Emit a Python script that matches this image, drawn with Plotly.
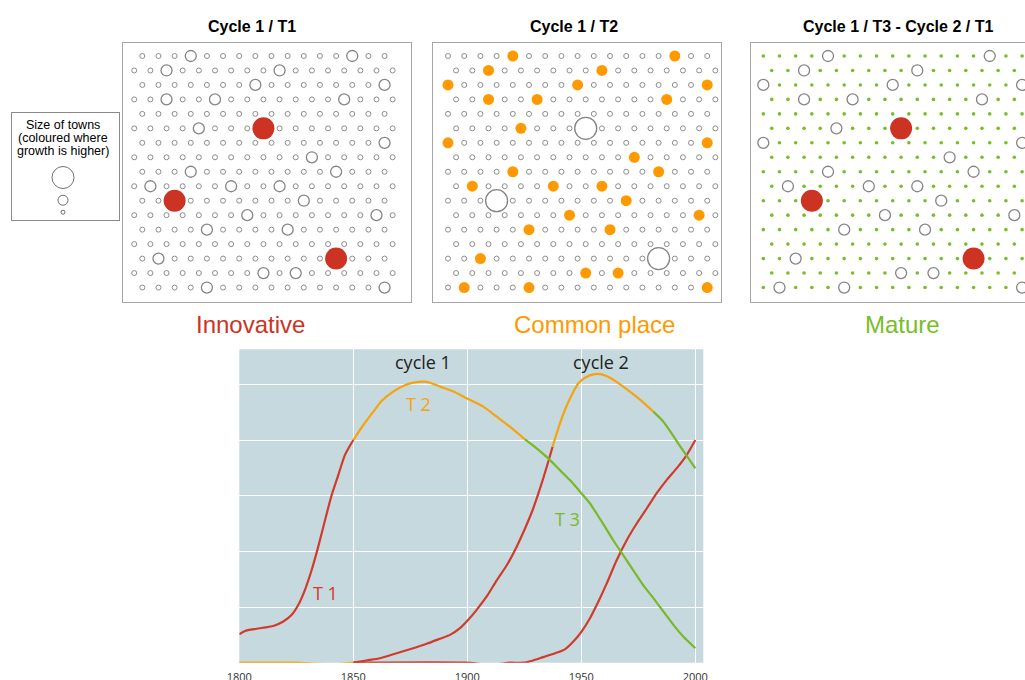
import plotly.graph_objects as go

W, H = 1025, 680
N_ROWS = 17

# ---------------- data: towns (row, col) on a hexagonal lattice ----------------
p1_big = [(0, 3), (0, 13), (1, 2), (1, 9), (2, 7), (2, 15), (3, 2), (3, 5), (3, 13),
          (5, 4), (6, 15), (7, 11), (8, 3), (8, 12), (9, 1), (9, 6), (9, 9), (10, 10),
          (11, 7), (11, 15), (12, 4), (12, 9), (14, 1), (15, 8), (15, 10), (16, 4), (16, 15)]
p1_red = [(5, 8), (10, 2), (14, 12)]

p2_orange = [(0, 4), (0, 14), (1, 2), (1, 9), (2, 0), (2, 8), (2, 16), (3, 2), (3, 5), (3, 13),
             (5, 4), (6, 0), (6, 16), (7, 11), (8, 4), (8, 13), (9, 1), (9, 6), (9, 9), (10, 11),
             (11, 7), (11, 15), (12, 5), (12, 10), (14, 2), (15, 8), (15, 10), (16, 1), (16, 5), (16, 16)]
p2_big = [(5, 8), (10, 3), (14, 13)]

p3_big = [(0, 4), (0, 14), (1, 2), (1, 9), (2, 0), (2, 8), (2, 16), (3, 2), (3, 5), (3, 13),
          (5, 4), (6, 0), (6, 16), (7, 11), (8, 4), (8, 13), (9, 1), (9, 6), (9, 9), (10, 11),
          (11, 7), (11, 15), (12, 5), (12, 10), (14, 2), (15, 8), (15, 10), (16, 1), (16, 5), (16, 16)]
p3_red = [(5, 8), (10, 3), (14, 13)]

panel_titles = ["Cycle 1 / T1", "Cycle 1 / T2", "Cycle 1 / T3 - Cycle 2 / T1"]
stage_labels = ["Innovative", "Common place", "Mature"]
legend_lines = ["Size of towns", "(coloured where", "growth is higher)"]
legend_sizes = [22, 10, 4]

# ---------------- data: curves of the lower chart ----------------
a_red_x = [1800, 1802.5, 1807.6, 1814.9, 1819.3, 1823.0, 1825.9, 1828.8, 1831.7, 1834.6, 1837.6, 1840.5, 1843.4, 1846.3, 1850]
a_red_y = [0.51, 0.57, 0.61, 0.66, 0.74, 0.86, 1.04, 1.31, 1.66, 2.08, 2.56, 3.01, 3.37, 3.73, 4.0]
a_orange_x = [1850, 1854.4, 1858.8, 1862.4, 1867.5, 1871.9, 1876.3, 1881.4, 1883.6, 1888.0, 1893.9, 1899.7, 1907.0, 1912.9, 1918.7, 1925.3]
a_orange_y = [4.0, 4.27, 4.51, 4.70, 4.87, 4.97, 5.03, 5.05, 5.03, 4.96, 4.87, 4.75, 4.60, 4.42, 4.24, 4.01]
a_green_x = [1925.3, 1930.4, 1935.5, 1940.6, 1945.0, 1950.1, 1953.8, 1956.7, 1960.4, 1964.0, 1968.4, 1972.8, 1977.2, 1981.6, 1986.0, 1990.4, 1994.7, 2000]
a_green_y = [4.01, 3.85, 3.67, 3.46, 3.28, 3.04, 2.86, 2.68, 2.44, 2.20, 1.93, 1.66, 1.39, 1.16, 0.92, 0.68, 0.47, 0.26]

b_orange0_x = [1800, 1825, 1835, 1845, 1850]
b_orange0_y = [0, 0, -0.02, -0.02, 0]
b_red_x = [1850, 1855.8, 1861.7, 1869.0, 1876.3, 1882.2, 1888.0, 1892.4, 1896.8, 1900.4, 1904.1, 1908.5, 1912.9, 1917.3, 1921.6, 1925.3, 1928.9, 1932.6, 1935.5, 1937.4]
b_red_y = [0, 0.04, 0.08, 0.17, 0.26, 0.34, 0.43, 0.50, 0.62, 0.77, 0.95, 1.19, 1.48, 1.75, 2.08, 2.41, 2.77, 3.22, 3.61, 3.88]
b_orange_x = [1937.4, 1939.9, 1942.8, 1945.8, 1948.7, 1951.6, 1955.3, 1958.9, 1962.6, 1967.0, 1971.3, 1976.5, 1981.6]
b_orange_y = [3.88, 4.21, 4.54, 4.81, 5.02, 5.12, 5.18, 5.18, 5.12, 5.00, 4.87, 4.70, 4.51]
b_green_x = [1981.6, 1986.0, 1989.6, 1993.3, 1997.0, 2000]
b_green_y = [4.51, 4.33, 4.12, 3.89, 3.67, 3.49]

c_red_x = [1850, 1899.7, 1907.0, 1912.9, 1918.7, 1924.6, 1928.9, 1933.3, 1938.5, 1942.8, 1946.5, 1950.1, 1953.8, 1957.5, 1961.1, 1965.5, 1969.9, 1974.3, 1978.7, 1983.0, 1987.4, 1991.8, 1996.2, 2000]
c_red_y = [0, 0, -0.03, -0.03, 0, 0, 0.04, 0.10, 0.17, 0.24, 0.38, 0.56, 0.80, 1.10, 1.42, 1.84, 2.20, 2.50, 2.77, 3.04, 3.28, 3.49, 3.73, 4.0]

x_ticks = [1800, 1850, 1900, 1950, 2000]
curve_labels = ["cycle 1", "cycle 2", "T 1", "T 2", "T 3"]

# ---------------- styling ----------------
RED = "#cc3322"
ORANGE = "#ff9900"
GREEN = "#79bd28"
LRED = "#d03b2b"
LORANGE = "#f7a30f"
LGREEN = "#7ab82a"
GRAY = "#8c8c8c"
BORDER = "#a6a6a6"
BG = "#c5d9de"


def px(x):
    return x / W


def py(y):
    return 1 - y / H


def lattice(n_even, n_odd, odd_shift):
    pts = {}
    for r in range(N_ROWS):
        n, s = (n_even, 0.0) if r % 2 == 0 else (n_odd, odd_shift)
        for c in range(n):
            pts[(r, c)] = (c + s, r)
    return pts


fig = go.Figure()

panels = [
    dict(ax="", dom=(122.7, 411.0), xr=[-1.214, 16.637], lat=(16, 17, -0.5),
         big=p1_big, big_size=11, fill=p1_red, fill_size=22, fill_color=RED, small="ring", right=True),
    dict(ax="2", dom=(433.0, 721.0), xr=[-0.926, 16.85], lat=(17, 17, 0.5),
         big=p2_big, big_size=22, fill=p2_orange, fill_size=11, fill_color=ORANGE, small="ring", right=True),
    dict(ax="3", dom=(750.7, 1025.0), xr=[-0.78, 16.18], lat=(17, 17, 0.52),
         big=p3_big, big_size=11, fill=p3_red, fill_size=22, fill_color=RED, small="dot", right=False),
]
yr_panel = [17.0, -0.898]

for p in panels:
    pts = lattice(*p["lat"])
    special = set(p["big"]) | set(p["fill"])
    small = [pts[k] for k in pts if k not in special]
    xa, ya = "x" + p["ax"], "y" + p["ax"]
    if p["small"] == "ring":
        fig.add_trace(go.Scatter(x=[q[0] for q in small], y=[q[1] for q in small], mode="markers",
                                 xaxis=xa, yaxis=ya, hoverinfo="skip", showlegend=False,
                                 marker=dict(symbol="circle-open", size=5, color=GRAY, line=dict(width=1))))
    else:
        fig.add_trace(go.Scatter(x=[q[0] for q in small], y=[q[1] for q in small], mode="markers",
                                 xaxis=xa, yaxis=ya, hoverinfo="skip", showlegend=False,
                                 marker=dict(symbol="circle", size=3.6, color=GREEN, line=dict(width=0))))
    bigp = [pts[k] for k in p["big"]]
    fig.add_trace(go.Scatter(x=[q[0] for q in bigp], y=[q[1] for q in bigp], mode="markers",
                             xaxis=xa, yaxis=ya, hoverinfo="skip", showlegend=False,
                             marker=dict(symbol="circle-open", size=p["big_size"], color="#858585",
                                         line=dict(width=1.3))))
    fp = [pts[k] for k in p["fill"]]
    fig.add_trace(go.Scatter(x=[q[0] for q in fp], y=[q[1] for q in fp], mode="markers",
                             xaxis=xa, yaxis=ya, hoverinfo="skip", showlegend=False,
                             marker=dict(symbol="circle", size=p["fill_size"], color=p["fill_color"],
                                         line=dict(width=0))))
    key = "xaxis" + p["ax"]
    ykey = "yaxis" + p["ax"]
    fig.layout[key] = dict(domain=[px(p["dom"][0]), px(p["dom"][1])], range=p["xr"], showgrid=False,
                           zeroline=False, showticklabels=False, ticks="", showline=True, mirror=True,
                           linecolor=BORDER, linewidth=1, fixedrange=True, automargin=False,
                           anchor="y" + p["ax"])
    fig.layout[ykey] = dict(domain=[py(302), py(43)], range=yr_panel, showgrid=False, zeroline=False,
                            showticklabels=False, ticks="", showline=True, mirror=p["right"],
                            linecolor=BORDER, linewidth=1, fixedrange=True, automargin=False,
                            anchor="x" + p["ax"])

# ---------------- legend box ----------------
leg_y = [65, 87.7, 99.7]
fig.add_trace(go.Scatter(x=[51.3] * 3, y=leg_y, mode="markers", xaxis="x4", yaxis="y4",
                         hoverinfo="skip", showlegend=False,
                         marker=dict(symbol="circle-open", size=legend_sizes, color="#333333",
                                     line=dict(width=1))))
fig.layout["xaxis4"] = dict(domain=[px(11.7), px(118.5)], range=[0, 106.8], showgrid=False,
                            zeroline=False, showticklabels=False, ticks="", showline=True, mirror=True,
                            linecolor="#8a8a8a", linewidth=1, fixedrange=True, automargin=False,
                            anchor="y4")
fig.layout["yaxis4"] = dict(domain=[py(220), py(112.5)], range=[107.5, 0], showgrid=False,
                            zeroline=False, showticklabels=False, ticks="", showline=True, mirror=True,
                            linecolor="#8a8a8a", linewidth=1, fixedrange=True, automargin=False,
                            anchor="x4")

# ---------------- lower chart ----------------
line_sets = [
    (b_orange0_x, b_orange0_y, LORANGE),
    (c_red_x, c_red_y, LRED),
    (b_red_x, b_red_y, LRED),
    (b_orange_x, b_orange_y, LORANGE),
    (b_green_x, b_green_y, LGREEN),
    (a_red_x, a_red_y, LRED),
    (a_orange_x, a_orange_y, LORANGE),
    (a_green_x, a_green_y, LGREEN),
]
for xs, ys, col in line_sets:
    fig.add_trace(go.Scatter(x=xs, y=ys, mode="lines", xaxis="x5", yaxis="y5", hoverinfo="skip",
                             showlegend=False, cliponaxis=False,
                             line=dict(color=col, width=2.2, shape="spline", smoothing=0.6)))

fig.layout["xaxis5"] = dict(domain=[px(239.3), px(703.3)], range=[1800, 2003.5], tickvals=x_ticks,
                            showgrid=True, gridcolor="white", gridwidth=1, zeroline=False,
                            showline=False, ticks="outside", ticklen=4, tickcolor="rgba(0,0,0,0)",
                            tickfont=dict(family="Open Sans", size=11, color="#333333"),
                            fixedrange=True, automargin=False, anchor="y5")
fig.layout["yaxis5"] = dict(domain=[py(662.7), py(349.3)], range=[0, 5.63], dtick=1,
                            showgrid=True, gridcolor="white", gridwidth=1, zeroline=False,
                            showticklabels=False, ticks="", showline=False, fixedrange=True,
                            automargin=False, anchor="x5")

shapes = [dict(type="rect", xref="x5 domain", yref="y5 domain", x0=0, x1=1, y0=0, y1=1,
               fillcolor=BG, line=dict(width=0), layer="below")]

annotations = []
title_x = [252.3, 573.8, 898.0]
for t, xc in zip(panel_titles, title_x):
    annotations.append(dict(text="<b>" + t + "</b>", x=px(xc), y=py(27), xref="paper", yref="paper",
                            showarrow=False, xanchor="center", yanchor="middle",
                            font=dict(family="Liberation Sans", size=16, color="black")))
label_x = [250.5, 594.5, 902.5]
label_col = [RED, ORANGE, GREEN]
for t, xc, col in zip(stage_labels, label_x, label_col):
    annotations.append(dict(text=t, x=px(xc), y=py(324), xref="paper", yref="paper",
                            showarrow=False, xanchor="center", yanchor="middle",
                            font=dict(family="Liberation Sans", size=24, color=col)))
for t, yc in zip(legend_lines, [125.3, 138.3, 151.3]):
    annotations.append(dict(text=t, x=px(63.0), y=py(yc), xref="paper", yref="paper",
                            showarrow=False, xanchor="center", yanchor="middle",
                            font=dict(family="Liberation Sans", size=12.5, color="black")))

lab_pos = [(1880.7, 5.40), (1958.5, 5.40), (1837.6, 1.26), (1878.7, 4.64), (1944.0, 2.59)]
lab_col = ["#222222", "#222222", LRED, LORANGE, LGREEN]
for t, (xx, yy), col in zip(curve_labels, lab_pos, lab_col):
    annotations.append(dict(text=t, x=xx, y=yy, xref="x5", yref="y5", showarrow=False,
                            xanchor="center", yanchor="middle",
                            font=dict(family="Open Sans", size=18, color=col)))

fig.update_layout(template="none", width=W, height=H, margin=dict(l=0, r=0, t=0, b=0, pad=0),
                  paper_bgcolor="white", plot_bgcolor="rgba(0,0,0,0)",
                  shapes=shapes, annotations=annotations, showlegend=False)

fig.write_html("out.html", config={"displayModeBar": False, "staticPlot": True},
               post_script="document.body.style.margin='0';document.body.style.overflow='hidden';")
